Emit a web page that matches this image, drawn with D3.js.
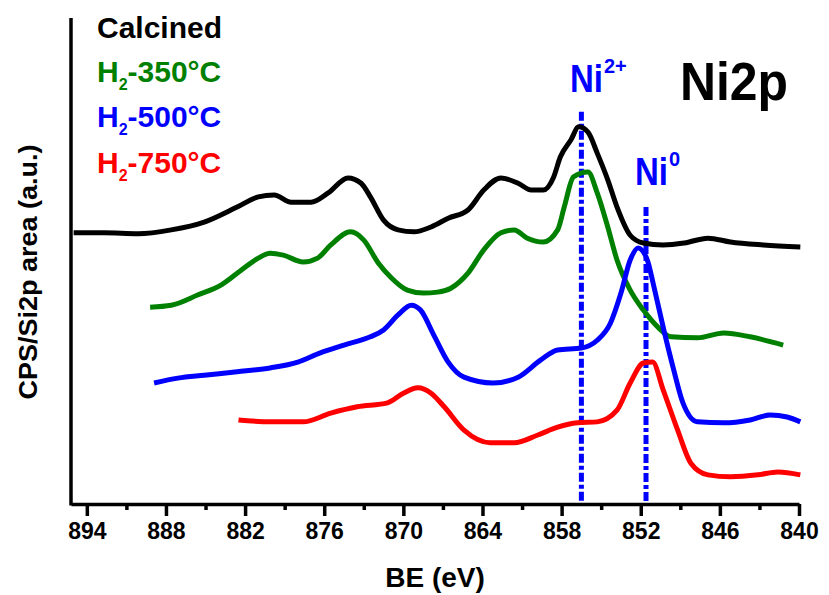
<!DOCTYPE html>
<html>
<head>
<meta charset="utf-8">
<script src="https://cdn.jsdelivr.net/npm/d3@7"></script>
<style>
    body { margin: 0; background: #fff; }
    text { font-family: "Liberation Sans", Arial, sans-serif; font-weight: bold; }
</style>
</head>
<body>
<svg width="829" height="595"></svg>
<script>
// binding energy (eV) and intensity (a.u., offset for stacking)
const calcinedBE = [895.0, 892.7, 890.1, 887.6, 885.1, 882.6, 881.0, 879.8, 878.5, 877.0, 875.7, 874.2, 873.2, 872.5, 871.5, 870.4, 869.2, 867.9, 866.6, 865.1, 863.9, 862.6, 861.3, 860.3, 859.4, 858.6, 858.1, 857.3, 856.7, 856.0, 855.3, 854.5, 853.8, 852.8, 851.8, 850.3, 848.7, 846.9, 845.2, 842.7, 839.9];
const calcinedI = [55.8, 55.8, 55.6, 56.4, 58.0, 61.1, 63.2, 63.6, 62.1, 62.1, 64.0, 67.1, 66.0, 63.2, 58.4, 56.4, 56.0, 57.0, 58.8, 60.5, 64.6, 67.1, 66.0, 64.6, 64.6, 67.3, 71.4, 74.9, 77.6, 76.5, 72.2, 66.7, 61.1, 55.3, 53.7, 53.3, 53.7, 54.7, 53.9, 53.3, 52.9];

const h350BE = [889.2, 887.6, 885.6, 883.8, 882.3, 881.0, 880.1, 879.1, 877.6, 876.5, 875.5, 874.0, 873.0, 871.9, 870.9, 869.7, 868.5, 867.4, 866.4, 865.1, 863.9, 862.6, 861.6, 860.6, 859.4, 858.3, 857.8, 857.1, 856.0, 855.3, 854.5, 853.8, 852.8, 851.8, 850.7, 849.7, 847.7, 845.7, 843.7, 841.2];
const h350I = [40.5, 40.9, 43.0, 45.1, 48.1, 50.6, 51.6, 51.2, 49.8, 50.6, 53.3, 56.0, 54.3, 49.6, 46.5, 44.0, 43.4, 43.6, 44.4, 47.5, 52.3, 55.8, 56.4, 54.7, 53.9, 56.4, 61.1, 67.3, 68.3, 64.0, 57.0, 50.2, 44.0, 39.9, 36.4, 34.4, 34.2, 35.2, 34.4, 32.7];

const h500BE = [888.9, 887.1, 885.1, 882.6, 880.1, 878.0, 876.3, 874.5, 872.5, 871.5, 870.4, 869.4, 868.7, 867.7, 866.6, 865.4, 863.2, 861.3, 859.6, 858.3, 856.5, 855.3, 854.3, 853.5, 852.8, 852.2, 851.5, 851.0, 850.3, 849.5, 848.8, 847.7, 845.7, 843.7, 842.2, 840.9, 839.9];
const h500I = [24.9, 25.9, 26.5, 27.2, 28.0, 29.2, 31.1, 32.7, 34.4, 35.8, 38.9, 40.9, 39.9, 34.8, 29.2, 26.1, 24.9, 26.1, 29.6, 31.7, 32.1, 33.7, 37.2, 43.4, 50.2, 52.7, 50.2, 44.7, 36.4, 27.6, 20.8, 16.9, 16.7, 17.3, 18.3, 17.9, 16.9];

const h750BE = [882.5, 880.1, 877.6, 875.5, 873.5, 871.2, 870.0, 868.9, 867.9, 866.9, 865.4, 863.4, 861.6, 859.8, 858.3, 856.8, 855.3, 853.8, 852.8, 851.8, 851.1, 850.3, 849.2, 848.2, 846.9, 845.2, 843.1, 841.6, 839.9];
const h750I = [17.3, 16.9, 16.9, 18.7, 20.0, 20.8, 22.8, 23.9, 22.8, 20.0, 15.2, 12.6, 12.6, 14.2, 15.8, 16.7, 16.9, 19.3, 24.9, 29.0, 29.2, 23.5, 15.2, 8.4, 6.0, 5.6, 6.0, 6.6, 6.0];

const seriesNames = ['Calcined', 'H2-350°C', 'H2-500°C', 'H2-750°C'];
const seriesColors = ['#000000', '#008000', '#0000ff', '#ff0000'];

const majorTicks = [894, 888, 882, 876, 870, 864, 858, 852, 846, 840];
const minorTicks = [891, 885, 879, 873, 867, 861, 855, 849, 843];

// reference lines: position (eV) and top of the line (a.u.)
const refLabels = ['Ni', 'Ni'];
const refSups = ['2+', '0'];
const refBE = [856.5, 851.6];
const refTop = [80.7, 61.1];

const svg = d3.select('svg');

const x = d3.scaleLinear().domain([895.2, 840]).range([71, 799]);
const y = d3.scaleLinear().domain([0, 100]).range([504, 18]);

const series = [
    calcinedBE.map((b, i) => [b, calcinedI[i]]),
    h350BE.map((b, i) => [b, h350I[i]]),
    h500BE.map((b, i) => [b, h500I[i]]),
    h750BE.map((b, i) => [b, h750I[i]])
];

const line = d3.line()
    .x(d => x(d[0]))
    .y(d => y(d[1]))
    .curve(d3.curveMonotoneX);

// dashed reference lines
svg.append('g')
    .selectAll('line')
    .data(refBE)
    .enter().append('line')
    .attr('x1', d => x(d))
    .attr('x2', d => x(d))
    .attr('y1', (d, i) => y(refTop[i]))
    .attr('y2', y(0))
    .attr('stroke', '#0000ff')
    .attr('stroke-width', 5)
    .attr('stroke-dasharray', '9,3,4,3');

svg.append('g')
    .selectAll('path')
    .data(series)
    .enter().append('path')
    .attr('d', line)
    .attr('fill', 'none')
    .attr('stroke', (d, i) => seriesColors[i])
    .attr('stroke-width', 5)
    .attr('stroke-linejoin', 'round');

// axes
const minorAxis = d3.axisBottom(x).tickValues(minorTicks).tickSize(6).tickFormat('');
const majorAxis = d3.axisBottom(x).tickValues(majorTicks).tickSize(12).tickSizeOuter(0).tickPadding(7);

const gMinor = svg.append('g').attr('transform', `translate(0,${y(0)})`).call(minorAxis);
gMinor.select('.domain').remove();
const gMajor = svg.append('g').attr('transform', `translate(0,${y(0)})`).call(majorAxis);
svg.selectAll('.tick line').attr('stroke-width', 3.5);
gMajor.select('.domain').attr('stroke-width', 3.5);
gMajor.selectAll('.tick text')
    .style('font-size', '23px')
    .style('font-family', '"Liberation Sans", Arial, sans-serif')
    .style('font-weight', 'bold')
    .attr('fill', '#000');

svg.append('line')
    .attr('x1', x(895.2)).attr('x2', x(895.2))
    .attr('y1', y(100)).attr('y2', y(0) + 1.5)
    .attr('stroke', '#000')
    .attr('stroke-width', 3.5);

// axis titles
svg.append('text')
    .attr('x', 435).attr('y', 587)
    .attr('text-anchor', 'middle')
    .style('font-size', '28px')
    .text('BE (eV)');

svg.append('text')
    .attr('transform', 'translate(37,272) rotate(-90)')
    .attr('text-anchor', 'middle')
    .attr('textLength', 255)
    .attr('lengthAdjust', 'spacingAndGlyphs')
    .style('font-size', '26px')
    .text('CPS/Si2p area (a.u.)');

// legend
const legendY = [38, 82, 127, 173];
const legend = svg.append('g');
seriesNames.forEach((name, i) => {
    const t = legend.append('text')
        .attr('x', 97).attr('y', legendY[i])
        .attr('fill', seriesColors[i])
        .style('font-size', '30px');
    if (name.startsWith('H2')) {
        t.append('tspan').text('H');
        t.append('tspan').attr('dy', 8).style('font-size', '16px').text('2');
        t.append('tspan').attr('dy', -8).text(name.slice(2));
    } else {
        t.text(name);
    }
});

svg.append('text')
    .attr('x', 680).attr('y', 100)
    .attr('textLength', 108)
    .attr('lengthAdjust', 'spacingAndGlyphs')
    .style('font-size', '54px')
    .text('Ni2p');

// reference labels
const refPos = [[570, 92], [635, 185]];
refLabels.forEach((lab, i) => {
    const t = svg.append('text')
        .attr('x', refPos[i][0]).attr('y', refPos[i][1])
        .attr('fill', '#0000ff');
    t.append('tspan').style('font-size', '38px')
        .attr('textLength', 33).attr('lengthAdjust', 'spacingAndGlyphs').text(lab);
    t.append('tspan').style('font-size', '20px').attr('dx', 1).attr('dy', -19).text(refSups[i]);
});
</script>
</body>
</html>
